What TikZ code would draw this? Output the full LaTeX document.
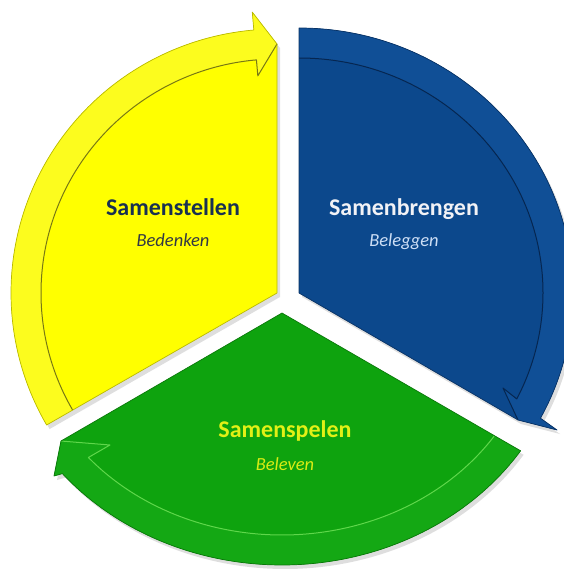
\documentclass[tikz,border=0pt]{standalone}
\usepackage{fontspec}
\setmainfont{Carlito}
\usetikzlibrary{calc}
\definecolor{yfill}{RGB}{255,255,0}
\definecolor{yedge}{RGB}{185,185,0}
\definecolor{yline}{RGB}{120,120,20}
\definecolor{yband}{RGB}{252,252,30}
\definecolor{bfill}{RGB}{12,72,140}
\definecolor{bedge}{RGB}{8,50,100}
\definecolor{bline}{RGB}{6,38,80}
\definecolor{bband}{RGB}{16,79,150}
\definecolor{gfill}{RGB}{14,163,14}
\definecolor{gedge}{RGB}{10,120,10}
\definecolor{gline}{RGB}{95,215,75}
\definecolor{gband}{RGB}{20,168,20}
\definecolor{ytitle}{RGB}{24,48,82}
\definecolor{ysub}{RGB}{50,56,68}
\definecolor{btitle}{RGB}{242,242,246}
\definecolor{bsub}{RGB}{205,222,245}
\definecolor{gtitle}{RGB}{226,240,22}
\definecolor{gsub}{RGB}{216,236,20}
\newcommand{\yshape}{(Y) -- (Ys) arc[start angle=150, end angle=265, x radius=266, y radius=264] -- (Ywo) -- (Yt) -- cycle}
\newcommand{\bshape}{(B) -- (Bs) arc[start angle=-90, end angle=28.2, x radius=274, y radius=265] -- (Bwo) -- (Bt) -- cycle}
\newcommand{\gshape}{(G) -- (Gs) arc[start angle=33.15, end angle=140.4, x radius=285, y radius=252] -- (Gwo) -- (Gt) -- cycle}
\begin{document}
\begin{tikzpicture}[x=1pt,y=-1pt,
  title/.style={font=\fontsize{24}{28}\selectfont\bfseries, anchor=base, inner sep=0pt},
  sub/.style={font=\fontsize{18.5}{22}\selectfont\itshape, anchor=base, inner sep=0pt},
  edgeline/.style={line width=0.7pt, line join=round},
  bandline/.style={line width=1pt, line join=round}]
\useasboundingbox (0,0) rectangle (563,578);
% ---- coordinates: yellow
\coordinate (Y) at (277,293);
\coordinate (Ys) at ($(Y)+(150:266 and 264)$);
\coordinate (Ywo) at ($(Y)+(265:284 and 282)$);
\coordinate (Yt) at ($(Y)+(270:250 and 249)$);
\coordinate (Ywi) at ($(Y)+(265:220 and 218)$);
\coordinate (Yis) at ($(Y)+(150:236 and 234)$);
\coordinate (Yie) at ($(Y)+(265:236 and 234)$);
% ---- blue
\coordinate (B) at (299,293);
\coordinate (Bs) at ($(B)+(-90:274 and 265)$);
\coordinate (Bwo) at (557,430);
\coordinate (Bt) at (518,420);
\coordinate (Bwi) at (503,388);
\coordinate (Bis) at ($(B)+(-90:244 and 235)$);
\coordinate (Bie) at ($(B)+(26.8:244 and 235)$);
% ---- green
\coordinate (G) at (282,313);
\coordinate (Gs) at ($(G)+(33.15:285 and 252)$);
\coordinate (Gwo) at (54,476);
\coordinate (Gt) at (61,441);
\coordinate (Gwi) at (110,445);
\coordinate (Gis) at ($(G)+(33.7:255 and 222)$);
\coordinate (Gie) at ($(G)+(139.4:255 and 222)$);
% ---- shadows
\begin{scope}[transform canvas={shift={(3,4)}}]
  \fill[black, opacity=0.13] \yshape;
  \fill[black, opacity=0.13] \bshape;
  \fill[black, opacity=0.13] \gshape;
\end{scope}
% ---- yellow segment
\fill[yfill] \yshape;
\fill[yband] (Ys) arc[start angle=150, end angle=265, x radius=266, y radius=264] -- (Ywo) -- (Yt) -- (Ywi) -- (Yie) arc[start angle=265, end angle=150, x radius=236, y radius=234] -- cycle;
\draw[yline, bandline] (Yis) arc[start angle=150, end angle=265, x radius=236, y radius=234] -- (Ywi) -- (Yt);
\draw[yedge, edgeline] \yshape;
% ---- blue segment
\fill[bfill] \bshape;
\fill[bband] (Bs) arc[start angle=-90, end angle=28.2, x radius=274, y radius=265] -- (Bwo) -- (Bt) -- (Bwi) -- (Bie) arc[start angle=26.8, end angle=-90, x radius=244, y radius=235] -- cycle;
\draw[bline, bandline] (Bis) arc[start angle=-90, end angle=26.8, x radius=244, y radius=235] -- (Bwi) -- (Bt);
\draw[bedge, edgeline] \bshape;
% ---- green segment
\fill[gfill] \gshape;
\fill[gband] (Gs) arc[start angle=33.15, end angle=140.4, x radius=285, y radius=252] -- (Gwo) -- (Gt) -- (Gwi) -- (Gie) arc[start angle=139.4, end angle=33.7, x radius=255, y radius=222] -- cycle;
\draw[gline, bandline] (Gis) arc[start angle=33.7, end angle=139.4, x radius=255, y radius=222] -- (Gwi) -- (Gt);
\draw[gedge, edgeline] \gshape;
% ---- texts
\node[title, text=ytitle] (t1) at (173,215) {Samenstellen};
\node[sub, text=ysub] (s1) at (173,246.5) {Bedenken};
\node[title, text=btitle] (t2) at (404,215) {Samenbrengen};
\node[sub, text=bsub] (s2) at (404,246.5) {Beleggen};
\node[title, text=gtitle] (t3) at (285,437) {Samenspelen};
\node[sub, text=gsub] (s3) at (285,470) {Beleven};
\end{tikzpicture}
\end{document}
